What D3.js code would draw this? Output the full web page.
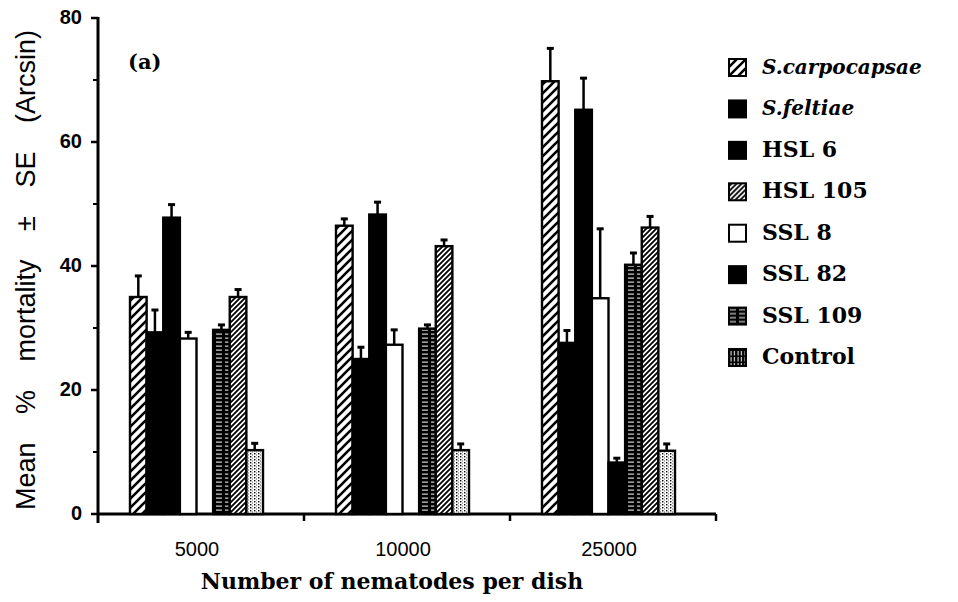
<!DOCTYPE html>
<html lang="en">
<head>
    <meta charset="UTF-8">
    <title>Mean % mortality by nematode dose</title>
    <style>
        body {
            margin: 0;
            padding: 0;
            background: #ffffff;
        }
        svg {
            display: block;
        }
    </style>
    <script src="https://d3js.org/d3.v7.min.js"></script>
</head>
<body>
    <div id="chart"></div>

    <script>
        // Data (arcsin-transformed mortality)
        const groups = ["5000", "10000", "25000"];

        // order in which bars sit inside each group
        const barOrder = ["S.carpocapsae", "S.feltiae", "HSL 6", "SSL 8", "SSL 82", "SSL 109", "HSL 105", "Control"];
        // order in the legend
        const legendOrder = ["S.carpocapsae", "S.feltiae", "HSL 6", "HSL 105", "SSL 8", "SSL 82", "SSL 109", "Control"];

        const carpocapsaeMean = [35.0, 46.5, 69.8];
        const carpocapsaeSE   = [3.4, 1.1, 5.3];
        const feltiaeMean     = [29.3, 25.0, 27.6];
        const feltiaeSE       = [3.6, 1.9, 2.0];
        const hsl6Mean        = [47.8, 48.3, 65.2];
        const hsl6SE          = [2.1, 2.0, 5.1];
        const ssl8Mean        = [28.3, 27.3, 34.8];
        const ssl8SE          = [1.0, 2.4, 11.2];
        const ssl82Mean       = [0, 0, 8.3];
        const ssl82SE         = [0, 0, 0.7];
        const ssl109Mean      = [29.7, 29.9, 40.2];
        const ssl109SE        = [0.8, 0.6, 1.9];
        const hsl105Mean      = [35.0, 43.2, 46.2];
        const hsl105SE        = [1.2, 1.0, 1.8];
        const controlMean     = [10.3, 10.3, 10.2];
        const controlSE       = [1.1, 1.0, 1.1];

        const yTicks = [0, 20, 40, 60, 80];
        const yMinorTicks = [10, 30, 50, 70];

        const means = {
            "S.carpocapsae": carpocapsaeMean, "S.feltiae": feltiaeMean, "HSL 6": hsl6Mean,
            "SSL 8": ssl8Mean, "SSL 82": ssl82Mean, "SSL 109": ssl109Mean,
            "HSL 105": hsl105Mean, "Control": controlMean
        };
        const errors = {
            "S.carpocapsae": carpocapsaeSE, "S.feltiae": feltiaeSE, "HSL 6": hsl6SE,
            "SSL 8": ssl8SE, "SSL 82": ssl82SE, "SSL 109": ssl109SE,
            "HSL 105": hsl105SE, "Control": controlSE
        };
        const italicNames = ["S.carpocapsae", "S.feltiae"];

        const width = 958;
        const height = 602;

        const svg = d3.select("#chart")
            .append("svg")
            .attr("width", width)
            .attr("height", height);

        svg.append("rect").attr("width", width).attr("height", height).attr("fill", "#fff");

        // Patterns for the bar fills
        const defs = svg.append("defs");

        function hatch(id, size, sw) {
            const p = defs.append("pattern")
                .attr("id", id)
                .attr("patternUnits", "userSpaceOnUse")
                .attr("width", size).attr("height", size);
            p.append("rect").attr("width", size).attr("height", size).attr("fill", "#fff");
            p.append("path")
                .attr("d", `M${-size / 2},${size / 2} L${size / 2},${-size / 2} M0,${size} L${size},0 M${size / 2},${size * 1.5} L${size * 1.5},${size / 2}`)
                .attr("stroke", "#000").attr("stroke-width", sw);
        }
        hatch("sparseHatch", 9, 2.6);
        hatch("denseHatch", 5, 1.8);

        // black with short white dashes (SSL 109)
        const lines = defs.append("pattern")
            .attr("id", "hLines")
            .attr("patternUnits", "userSpaceOnUse")
            .attr("width", 9).attr("height", 4);
        lines.append("rect").attr("width", 9).attr("height", 4).attr("fill", "#000");
        lines.append("rect").attr("x", 1).attr("y", 1.6).attr("width", 6).attr("height", 1).attr("fill", "#fff");

        // fine light texture (Control bars)
        const dots = defs.append("pattern")
            .attr("id", "dots")
            .attr("patternUnits", "userSpaceOnUse")
            .attr("width", 4).attr("height", 3);
        dots.append("rect").attr("width", 4).attr("height", 3).attr("fill", "#fff");
        dots.append("rect").attr("x", 0).attr("y", 0).attr("width", 1.4).attr("height", 1.4).attr("fill", "#000");
        dots.append("rect").attr("x", 2).attr("y", 1.5).attr("width", 1).attr("height", 1).attr("fill", "#555");

        // black with white vertical strokes (Control legend key)
        const vlines = defs.append("pattern")
            .attr("id", "vLines")
            .attr("patternUnits", "userSpaceOnUse")
            .attr("width", 3.5).attr("height", 6);
        vlines.append("rect").attr("width", 3.5).attr("height", 6).attr("fill", "#000");
        vlines.append("rect").attr("x", 1.5).attr("y", 0).attr("width", 1).attr("height", 4.5).attr("fill", "#fff");

        const fills = {
            "S.carpocapsae": "url(#sparseHatch)",
            "S.feltiae": "#000",
            "HSL 6": "#000",
            "SSL 8": "#fff",
            "SSL 82": "#000",
            "SSL 109": "url(#hLines)",
            "HSL 105": "url(#denseHatch)",
            "Control": "url(#dots)"
        };

        // Scales
        const x0 = d3.scaleBand()
            .domain(groups)
            .range([98, 716]);

        const x1 = d3.scaleBand()
            .domain(barOrder)
            .range([32, 165]);

        const y = d3.scaleLinear()
            .domain([0, 80])
            .range([514, 18]);

        // Y axis
        const yAxis = svg.append("g").attr("transform", "translate(98,0)");
        yAxis.append("line")
            .attr("x1", 0).attr("x2", 0)
            .attr("y1", y(80) - 1).attr("y2", y(0) + 9)
            .attr("stroke", "#000").attr("stroke-width", 3);
        yAxis.selectAll(".major")
            .data(yTicks)
            .join("line")
            .attr("x1", -7).attr("x2", 0)
            .attr("y1", d => y(d)).attr("y2", d => y(d))
            .attr("stroke", "#000").attr("stroke-width", 2.5);
        yAxis.selectAll(".minor")
            .data(yMinorTicks)
            .join("line")
            .attr("x1", -5).attr("x2", 0)
            .attr("y1", d => y(d)).attr("y2", d => y(d))
            .attr("stroke", "#000").attr("stroke-width", 2);
        yAxis.selectAll("text")
            .data(yTicks)
            .join("text")
            .attr("x", -16)
            .attr("y", d => y(d) + 1)
            .attr("text-anchor", "end")
            .attr("dominant-baseline", "middle")
            .style("font-family", "'Liberation Sans', Arial, sans-serif")
            .style("font-weight", "bold")
            .style("font-size", "20px")
            .text(d => d);

        // X axis
        svg.append("line")
            .attr("x1", 98).attr("x2", 716)
            .attr("y1", y(0)).attr("y2", y(0))
            .attr("stroke", "#000").attr("stroke-width", 3);
        svg.selectAll(".xsep")
            .data(groups.slice(1).concat(["end"]))
            .join("line")
            .attr("x1", (d, i) => i < 2 ? x0(d) : 716)
            .attr("x2", (d, i) => i < 2 ? x0(d) : 716)
            .attr("y1", y(0)).attr("y2", y(0) + 7)
            .attr("stroke", "#000").attr("stroke-width", 2.5);
        svg.selectAll(".xlabel")
            .data(groups)
            .join("text")
            .attr("x", d => x0(d) + x0.bandwidth() / 2 - 4)
            .attr("y", 556)
            .attr("text-anchor", "middle")
            .style("font-family", "'Liberation Sans', Arial, sans-serif")
            .style("font-size", "20px")
            .text(d => d);

        // Bars
        const groupG = svg.append("g")
            .selectAll("g")
            .data(groups)
            .join("g")
            .attr("transform", d => `translate(${x0(d)},0)`);

        const barData = (g, gi) => barOrder.map(name => ({
            name: name,
            mean: means[name][gi],
            se: errors[name][gi]
        })).filter(d => d.mean > 0);

        groupG.each(function (g, gi) {
            const sel = d3.select(this);
            const data = barData(g, gi);

            sel.selectAll(".err")
                .data(data)
                .join("line")
                .attr("x1", d => x1(d.name) + x1.bandwidth() / 2)
                .attr("x2", d => x1(d.name) + x1.bandwidth() / 2)
                .attr("y1", d => y(d.mean))
                .attr("y2", d => y(d.mean + d.se))
                .attr("stroke", "#000").attr("stroke-width", 2.5);
            sel.selectAll(".cap")
                .data(data)
                .join("line")
                .attr("x1", d => x1(d.name) + x1.bandwidth() / 2 - 3.5)
                .attr("x2", d => x1(d.name) + x1.bandwidth() / 2 + 3.5)
                .attr("y1", d => y(d.mean + d.se))
                .attr("y2", d => y(d.mean + d.se))
                .attr("stroke", "#000").attr("stroke-width", 3);

            sel.selectAll(".bar")
                .data(data)
                .join("rect")
                .attr("x", d => x1(d.name))
                .attr("y", d => y(d.mean))
                .attr("width", x1.bandwidth())
                .attr("height", d => y(0) - y(d.mean))
                .attr("fill", d => fills[d.name])
                .attr("stroke", "#000")
                .attr("stroke-width", 2.4);
        });

        // Legend
        const legendY = d3.scalePoint()
            .domain(legendOrder)
            .range([67, 357]);

        const legend = svg.append("g")
            .selectAll("g")
            .data(legendOrder)
            .join("g")
            .attr("transform", d => `translate(729,${legendY(d)})`);

        legend.append("rect")
            .attr("x", 0).attr("y", -8)
            .attr("width", 17).attr("height", 17)
            .attr("fill", d => d === "Control" ? "url(#vLines)" : fills[d])
            .attr("stroke", "#000")
            .attr("stroke-width", 2);

        legend.append("text")
            .attr("x", 33)
            .attr("y", 1)
            .attr("dominant-baseline", "middle")
            .style("font-family", "'DejaVu Serif', 'Liberation Serif', serif")
            .style("font-weight", "bold")
            .style("font-style", d => italicNames.includes(d) ? "italic" : "normal")
            .style("font-size", d => italicNames.includes(d) ? "20px" : "22px")
            .text(d => d);

        // Panel label
        svg.append("text")
            .attr("x", 128).attr("y", 69)
            .style("font-family", "'DejaVu Serif', 'Liberation Serif', serif")
            .style("font-weight", "bold")
            .style("font-size", "21px")
            .text("(a)");

        // Axis titles
        svg.append("text")
            .attr("x", 392).attr("y", 589)
            .attr("text-anchor", "middle")
            .style("font-family", "'DejaVu Serif', 'Liberation Serif', serif")
            .style("font-weight", "bold")
            .style("font-size", "22px")
            .text("Number of nematodes per dish");

        svg.append("text")
            .attr("transform", "translate(35,270) rotate(-90)")
            .attr("text-anchor", "middle")
            .style("font-family", "'Liberation Sans', Arial, sans-serif")
            .style("font-size", "27px")
            .style("word-spacing", "21px")
            .text("Mean % mortality \u00b1 SE (Arcsin)");
    </script>
</body>
</html>
